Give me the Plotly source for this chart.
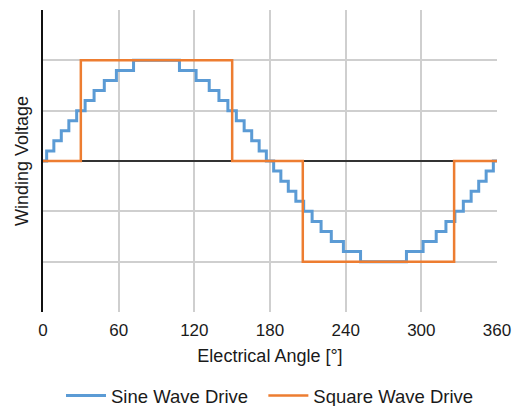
import plotly.graph_objects as go

# Stepped sine wave drive: angle where each step starts, and the level held from there
sine_angles = [0, 2.9, 8.6, 14.5, 20.5, 26.7, 33.4, 40.5, 48.6, 58.2, 71.8,
               108.2, 121.4, 131.8, 139.5, 146.6, 153.3, 159.5, 165.5, 171.4, 177.1,
               182.9, 188.6, 194.5, 200.5, 206.7, 213.4, 220.5, 228.6, 238.2, 251.8,
               288.2, 301.4, 311.8, 319.5, 326.6, 333.3, 339.5, 345.5, 351.4, 357.1, 360]
sine_levels = [0, 0.1, 0.2, 0.3, 0.4, 0.5, 0.6, 0.7, 0.8, 0.9, 1.0,
               0.9, 0.8, 0.7, 0.6, 0.5, 0.4, 0.3, 0.2, 0.1, 0,
               -0.1, -0.2, -0.3, -0.4, -0.5, -0.6, -0.7, -0.8, -0.9, -1.0,
               -0.9, -0.8, -0.7, -0.6, -0.5, -0.4, -0.3, -0.2, -0.1, 0, 0]

# Square wave drive
square_angles = [0, 30, 150, 206, 326, 360]
square_levels = [0, 1, 0, -1, 0, 0]

x_ticks = [0, 60, 120, 180, 240, 300, 360]

FONT = "Liberation Sans, Arial, sans-serif"
GAP = "\u00a0" * 2

fig = go.Figure()
fig.add_trace(go.Scatter(x=sine_angles, y=sine_levels, mode="lines", line_shape="hv",
                         name="Sine Wave Drive" + GAP, line=dict(color="#5B9BD5", width=3)))
fig.add_trace(go.Scatter(x=square_angles, y=square_levels, mode="lines", line_shape="hv",
                         name="Square Wave Drive", line=dict(color="#ED7D31", width=2.5)))

fig.update_layout(
    width=518, height=406,
    margin=dict(l=43, r=21, t=10, b=94),
    paper_bgcolor="white", plot_bgcolor="white",
    font=dict(family=FONT, size=17, color="#1a1a1a"),
    showlegend=True,
    legend=dict(orientation="h", x=0.5, xanchor="center", xref="paper",
                yref="container", y=0.025, yanchor="middle",
                font=dict(size=18.5), itemwidth=40, tracegroupgap=0),
    xaxis=dict(range=[0, 360], tickvals=x_ticks, ticktext=[str(v) for v in x_ticks],
               showgrid=True, gridcolor="#CFCFCF", gridwidth=1.5,
               zeroline=False, showline=False, ticks="", automargin="height+bottom",
               tickfont=dict(size=17), ticklabelstandoff=6,
               title=dict(text="Electrical Angle [°]", font=dict(size=18), standoff=10)),
    yaxis=dict(range=[-1.5, 1.5], dtick=0.5, showticklabels=False, automargin=False,
               showgrid=True, gridcolor="#CFCFCF", gridwidth=1.5,
               zeroline=True, zerolinecolor="#333333", zerolinewidth=1.5,
               showline=True, linecolor="#111111", linewidth=1.5, ticks="",
               title=dict(text="Winding Voltage", font=dict(size=18), standoff=8)),
)

fig.write_html("out.html")
